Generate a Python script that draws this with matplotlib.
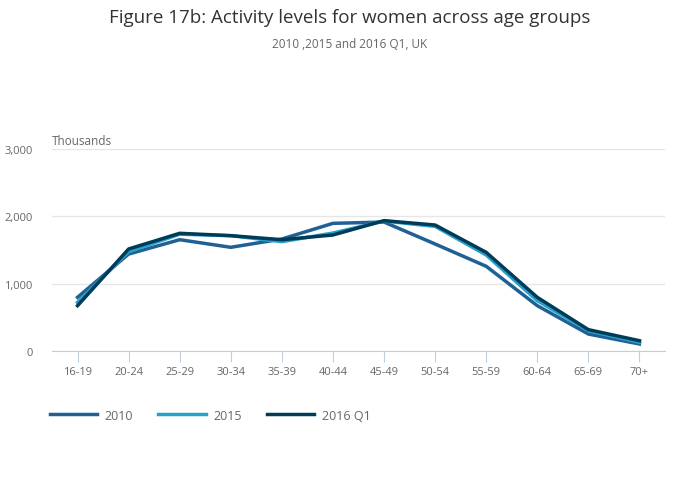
import matplotlib
matplotlib.use("Agg")
import matplotlib.pyplot as plt

plt.rcParams["font.family"] = ["Open Sans", "DejaVu Sans"]

age_groups = ["16-19", "20-24", "25-29", "30-34", "35-39", "40-44",
              "45-49", "50-54", "55-59", "60-64", "65-69", "70+"]
women_2010 = [797, 1440, 1653, 1540, 1663, 1896, 1915, 1589, 1258, 673, 252, 104]
women_2015 = [723, 1475, 1735, 1713, 1624, 1752, 1930, 1851, 1426, 747, 302, 129]
women_2016q1 = [673, 1515, 1748, 1713, 1653, 1723, 1936, 1871, 1465, 797, 317, 153]

series = [
    ("2010", women_2010, "#206095"),
    ("2015", women_2015, "#27a0cc"),
    ("2016 Q1", women_2016q1, "#003c57"),
]

fig = plt.figure(figsize=(7, 5.02), dpi=100)
ax = fig.add_axes([52 / 700, 1 - 352 / 502, 613 / 700, 202 / 502])

x = range(len(age_groups))
for label, values, color in series:
    ax.plot(x, values, color=color, linewidth=2.5, label=label)

ax.set_xlim(-0.5, 11.5)
ax.set_ylim(0, 3000)
ax.set_yticks([0, 1000, 2000, 3000])
ax.set_yticklabels(["0", "1,000", "2,000", "3,000"])
ax.set_xticks(list(x))
ax.set_xticklabels(age_groups)

ax.grid(axis="y", color="#e6e6e6", linewidth=1)
ax.set_axisbelow(True)
for side in ["top", "right", "left"]:
    ax.spines[side].set_visible(False)
ax.spines["bottom"].set_color("#c0cfe0")
ax.tick_params(axis="x", colors="#c0cfe0", length=8, labelcolor="#666666",
               labelsize=8, pad=3)
ax.tick_params(axis="y", length=0, labelcolor="#666666", labelsize=8, pad=14)

fig.text(0.5, 1 - 18 / 502, "Figure 17b: Activity levels for women across age groups",
         ha="center", va="center", fontsize=13.5, color="#333333")
fig.text(0.5, 1 - 44 / 502, "2010 ,2015 and 2016 Q1, UK",
         ha="center", va="center", fontsize=8.5, color="#666666")
fig.text(52 / 700, 1 - 142 / 502, "Thousands", ha="left", va="center",
         fontsize=8.5, color="#666666")

ax.legend(loc="center left", bbox_to_anchor=(-0.022, 1 - (416 - 150) / 202),
          ncol=3, frameon=False, fontsize=9, handlelength=3.8,
          columnspacing=2.0, labelcolor="#666666", handletextpad=0.6)

fig.savefig("out.png", dpi=100)
